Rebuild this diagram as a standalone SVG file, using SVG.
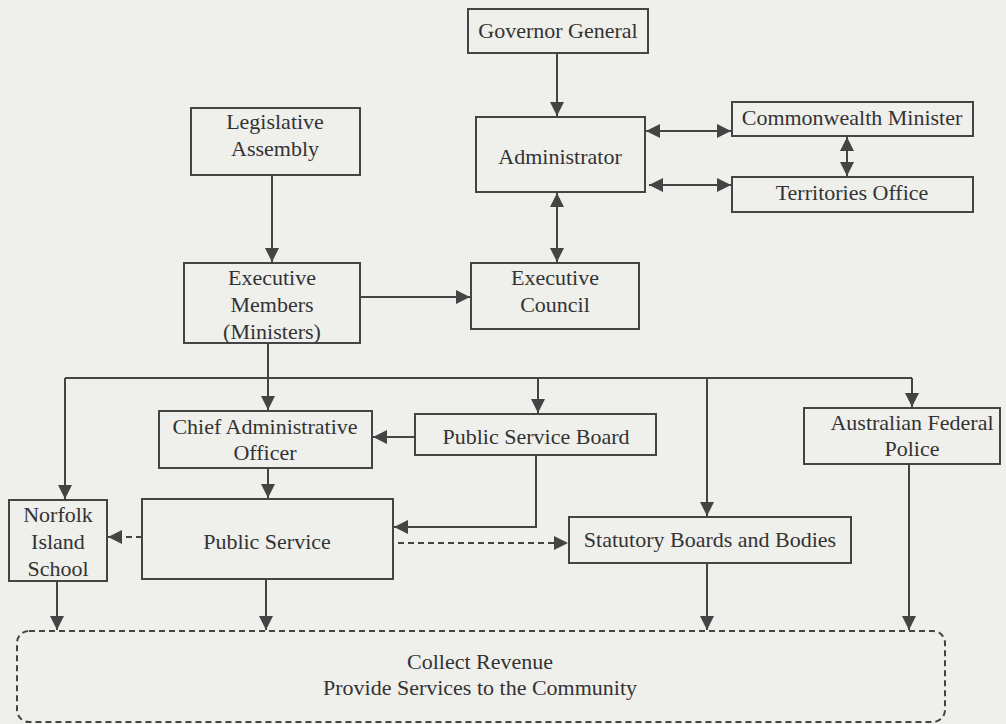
<svg xmlns="http://www.w3.org/2000/svg" width="1006" height="724" viewBox="0 0 1006 724">
<style>
.box{fill:#efefec;stroke:#444;stroke-width:2}
.t{font-family:"Liberation Serif","Times New Roman",serif;font-size:22px;fill:#333;text-anchor:middle}
.c{fill:none;stroke:#444;stroke-width:2}
.d{stroke-dasharray:6 4}
</style>
<defs>
<marker id="ah" viewBox="0 0 14 14" refX="14" refY="7" markerWidth="14" markerHeight="14" markerUnits="userSpaceOnUse" orient="auto-start-reverse">
<path d="M0,0 L14,7 L0,14 z" fill="#444"/>
</marker>
</defs>
<rect width="1006" height="724" fill="#efefec"/>
<g id="connectors">
<line class="c" x1="557" y1="53" x2="557" y2="116" marker-end="url(#ah)"/>
<line class="c" x1="646" y1="131" x2="731" y2="131" marker-start="url(#ah)" marker-end="url(#ah)"/>
<line class="c" x1="649" y1="185" x2="731" y2="185" marker-start="url(#ah)" marker-end="url(#ah)"/>
<line class="c" x1="847" y1="137" x2="847" y2="176" marker-start="url(#ah)" marker-end="url(#ah)"/>
<line class="c" x1="557" y1="193" x2="557" y2="262" marker-start="url(#ah)" marker-end="url(#ah)"/>
<line class="c" x1="272" y1="175" x2="272" y2="262" marker-end="url(#ah)"/>
<line class="c" x1="360" y1="297" x2="470" y2="297" marker-end="url(#ah)"/>
<line class="c" x1="268" y1="343" x2="268" y2="410" marker-end="url(#ah)"/>
<line class="c" x1="65" y1="378" x2="912" y2="378"/>
<line class="c" x1="65" y1="378" x2="65" y2="499" marker-end="url(#ah)"/>
<line class="c" x1="538" y1="378" x2="538" y2="413" marker-end="url(#ah)"/>
<line class="c" x1="707" y1="378" x2="707" y2="516" marker-end="url(#ah)"/>
<line class="c" x1="912" y1="378" x2="912" y2="407" marker-end="url(#ah)"/>
<line class="c" x1="415" y1="437" x2="373" y2="437" marker-end="url(#ah)"/>
<path class="c" d="M536,455 V527 H394" marker-end="url(#ah)"/>
<line class="c" x1="268" y1="468" x2="268" y2="498" marker-end="url(#ah)"/>
<line class="c d" x1="142" y1="537" x2="108" y2="537" marker-end="url(#ah)"/>
<line class="c d" x1="398" y1="543" x2="568" y2="543" marker-end="url(#ah)"/>
<line class="c" x1="57" y1="581" x2="57" y2="630" marker-end="url(#ah)"/>
<line class="c" x1="266" y1="579" x2="266" y2="630" marker-end="url(#ah)"/>
<line class="c" x1="707" y1="563" x2="707" y2="630" marker-end="url(#ah)"/>
<line class="c" x1="909" y1="464" x2="909" y2="630" marker-end="url(#ah)"/>
</g>
<g id="governor-general">
<rect class="box" x="468" y="9" width="180" height="44"/>
<text class="t" x="558" y="38">Governor General</text>
</g>
<g id="administrator">
<rect class="box" x="476" y="117" width="169" height="75"/>
<text class="t" x="560" y="164">Administrator</text>
</g>
<g id="commonwealth-minister">
<rect class="box" x="732" y="102" width="241" height="34"/>
<text class="t" x="852" y="125">Commonwealth Minister</text>
</g>
<g id="territories-office">
<rect class="box" x="732" y="177" width="241" height="35"/>
<text class="t" x="852" y="200">Territories Office</text>
</g>
<g id="legislative-assembly">
<rect class="box" x="191" y="108" width="169" height="67"/>
<text class="t" x="275" y="129">Legislative</text>
<text class="t" x="275" y="156">Assembly</text>
</g>
<g id="executive-members">
<rect class="box" x="184" y="263" width="176" height="80"/>
<text class="t" x="272" y="285">Executive</text>
<text class="t" x="272" y="312">Members</text>
<text class="t" x="272" y="339">(Ministers)</text>
</g>
<g id="executive-council">
<rect class="box" x="471" y="263" width="168" height="66"/>
<text class="t" x="555" y="285">Executive</text>
<text class="t" x="555" y="312">Council</text>
</g>
<g id="chief-administrative-officer">
<rect class="box" x="159" y="411" width="213" height="57"/>
<text class="t" x="265" y="434">Chief Administrative</text>
<text class="t" x="265" y="460">Officer</text>
</g>
<g id="public-service-board">
<rect class="box" x="415" y="414" width="241" height="41"/>
<text class="t" x="536" y="444">Public Service Board</text>
</g>
<g id="australian-federal-police">
<rect class="box" x="804" y="408" width="196" height="56"/>
<text class="t" x="912" y="430">Australian Federal</text>
<text class="t" x="912" y="456">Police</text>
</g>
<g id="norfolk-island-school">
<rect class="box" x="9" y="500" width="98" height="81"/>
<text class="t" x="58" y="522">Norfolk</text>
<text class="t" x="58" y="549">Island</text>
<text class="t" x="58" y="576">School</text>
</g>
<g id="public-service">
<rect class="box" x="142" y="499" width="251" height="80"/>
<text class="t" x="267" y="549">Public Service</text>
</g>
<g id="statutory-boards">
<rect class="box" x="569" y="517" width="282" height="46"/>
<text class="t" x="710" y="547">Statutory Boards and Bodies</text>
</g>
<g id="collect-revenue">
<rect class="box d" x="17" y="631" width="928" height="91" rx="12"/>
<text class="t" x="480" y="669">Collect Revenue</text>
<text class="t" x="480" y="695">Provide Services to the Community</text>
</g>
</svg>
